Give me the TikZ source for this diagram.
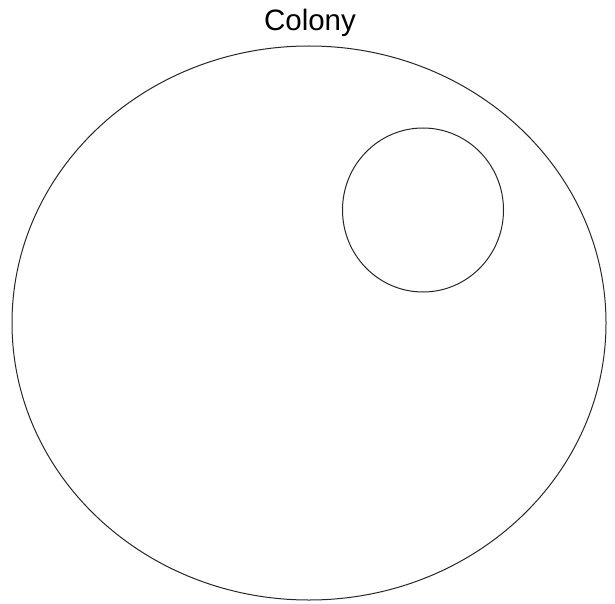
\documentclass[tikz,border=0pt]{standalone}
\usepackage{fontspec}
\setmainfont{Liberation Sans}
\begin{document}
\begin{tikzpicture}[x=1pt,y=-1pt,
  ring/.style={draw=black!85,line width=1pt}]
\useasboundingbox (0,0) rectangle (615,604);
\draw[ring] (309,323) ellipse [x radius=297, y radius=277];
\node[anchor=base,inner sep=0pt,font=\fontsize{29.5}{34}\selectfont] (label) at (310,31) {Colony};
\draw[ring] (423,210) ellipse [x radius=80.5, y radius=82];
\end{tikzpicture}
\end{document}
